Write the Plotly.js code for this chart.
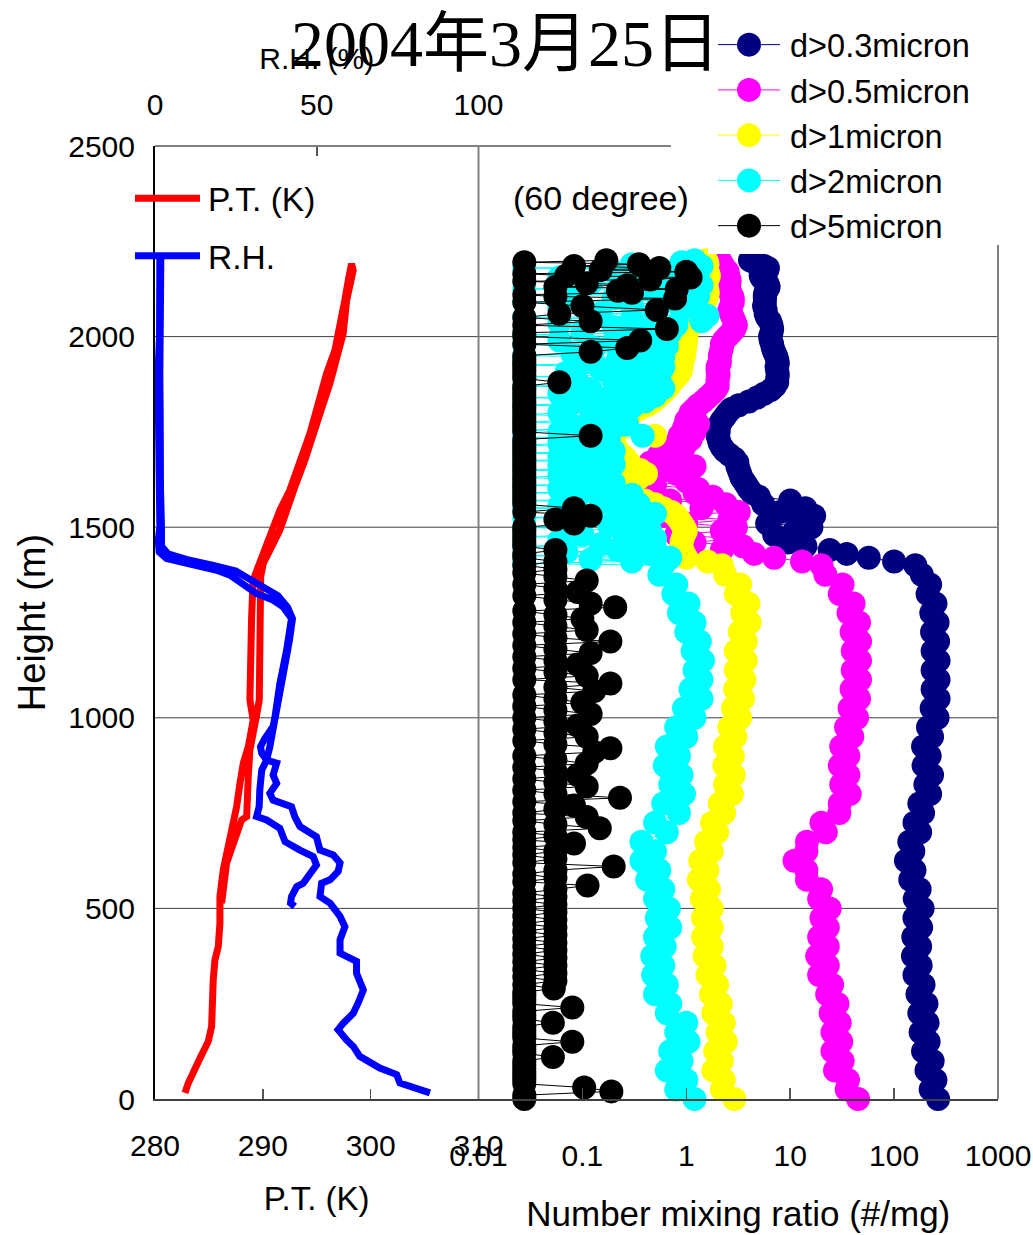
<!DOCTYPE html>
<html>
<head>
<meta charset="utf-8">
<script src="https://cdn.plot.ly/plotly-3.0.1.min.js"></script>
<style>html,body{margin:0;padding:0;background:#fff;}#gd{width:1033px;height:1235px;}</style>
</head>
<body>
<div id="gd"></div>
<script>
// ---------- Left panel: potential temperature & relative humidity ----------
const PT_H = [16,42,107,151,190,234,313,365,400,461,531,601,662,706,767,828,881,924,959,994,1047,1178,1265,1361,1396,1448,1492,1545,1597,1667,1746,1824,1903,1964,2025,2095,2147,2191,
  2174,2095,2008,1938,1877,1824,1754,1676,1606,1545,1492,1440,1405,1370,1265,1047,1003,959,916,846,785,741,732,619,514];
const PT_T = [282.78,283.09,284.17,284.94,285.25,285.25,285.40,285.56,285.87,286.02,286.02,286.33,286.8,287.26,287.57,287.88,288.19,288.65,288.96,289.11,288.8,288.8,288.96,289.1,289.6,290.35,290.97,291.58,292.5,293.44,294.37,295.14,295.91,296.68,297.15,297.6,297.92,298.23,
  298.38,297.77,297.45,296.84,296.22,295.6,294.83,293.9,292.97,292.2,291.58,290.66,290.04,289.8,289.73,289.67,289.4,289.1,288.8,288.65,288.5,288.5,288.03,286.64,286.18];

const RH_H = [16,33,42,64,81,112,138,155,182,199,225,252,286,330,361,383,418,452,479,514,531,566,575,597,619,640,653,688,715,741,767,784,802,828,850,881,889,907,924,946,977,1003,1090,1178,1221,1261,1291,1309,1326,1344,1361,1374,1387,1396,1409,1418,1435,1466,1501,1600,1700,1800,1900,2000,2100,2208,
  2200,2100,2000,1900,1800,1700,1600,1500,1450,1430,1415,1400,1385,1365,1345,1320,1290,1260,1200,1100,1003,977,924,889,863,811,767,741,732,710,675,653,636,614,588,566,557,531,514,505];
const RH_V = [85.0,78.8,75.7,74.7,69.5,63.3,61.3,59.2,56.6,58.2,61.3,62.8,64.4,62.3,62.3,57.2,57.2,58.7,57.2,54.1,51.0,51.5,54.1,56.6,57.2,55.1,51.0,49.9,44.8,43.2,42.2,36.5,35.5,37.6,36.5,37.6,34.5,33.0,32.6,34.0,36.5,37.1,38.6,40.7,41.2,42.2,39.6,36.5,31.4,28.3,26.3,23.2,19.1,13.9,7.7,3.6,1.3,1.0,1.5,1.3,1.0,1.2,0.9,1.4,1.2,1.5,
  1.8,1.6,1.8,1.5,1.6,1.4,1.7,2.0,2.0,4,10,18,25,29,33,38,41,42.5,41.5,39.5,37.5,36.8,35.5,34.5,33.0,32.4,32.2,31.4,34.5,38.6,40.2,44.8,48.9,49.9,47.9,45.8,43.8,42.2,41.9,43.2];

const PT_TICKS = [280,290,300,310];
const RH_TICKS = [0,50,100];
const HEIGHT_TICKS = [0,500,1000,1500,2000,2500];
const GRID_H = [500,1000,1500,2000];

// ---------- Right panel: number mixing ratio (#/mg) ----------
const NMR_TICKS = [0.01,0.1,1,10,100,1000];
const NMR_TICKTEXT = ['0.01','0.1','1','10','100','1000'];

// heights (m) used by the d>0.3, d>0.5, d>1 series
const H_LOW = [
  0,25,50,75,100,125,150,175,
  200,225,250,275,300,325,350,375,
  400,425,450,475,500,525,550,575,
  600,625,650,675,700,725,750,775,
  800,825,850,875,900,925,950,975,
  1000,1025,1050,1075,1100,1125,1150,1175,
  1200,1225,1250,1275,1300,1325,1350,1375];
const H_UP = [
  1400,1410,1420,1430,1440,1450,1460,1470,1480,1490,
  1500,1510,1520,1530,1540,1550,1560,1570,1580,1590,
  1600,1610,1620,1630,1640,1650,1660,1670,1680,1690,
  1700,1710,1720,1730,1740,1750,1760,1770,1780,1790,
  1800,1810,1820,1830,1840,1850,1860,1870,1880,1890,
  1900,1910,1920,1930,1940,1950,1960,1970,1980,1990,
  2000,2010,2020,2030,2040,2050,2060,2070,2080,2090,
  2100,2105,2110,2115,2120,2125,2130,2135,2140,2145,2150,2155,2160,2165,2170,2175,2180,2185,2190,2195,2200];
// heights (m) of the d>2 series above 1400 m (denser record)
const CH_UP = [
  1400,1405,1410,1415,1420,1425,1430,1435,1440,1445,
  1450,1455,1460,1465,1470,1475,1480,1485,1490,1495,
  1500,1505,1510,1515,1520,1525,1530,1535,1540,1545,
  1550,1555,1560,1565,1570,1575,1580,1585,1590,1595,
  1600,1605,1610,1615,1620,1625,1630,1635,1640,1645,
  1650,1655,1660,1665,1670,1675,1680,1685,1690,1695,
  1700,1705,1710,1715,1720,1725,1730,1735,1740,1745,
  1750,1755,1760,1765,1770,1775,1780,1785,1790,1795,
  1800,1805,1810,1815,1820,1825,1830,1835,1840,1845,
  1850,1855,1860,1865,1870,1875,1880,1885,1890,1895,
  1900,1905,1910,1915,1920,1925,1930,1935,1940,1945,
  1950,1955,1960,1965,1970,1975,1980,1985,1990,1995,
  2000,2005,2010,2015,2020,2025,2030,2035,2040,2045,
  2050,2055,2060,2065,2070,2075,2080,2085,2090,2095,
  2100,2105,2110,2115,2120,2125,2130,2135,2140,2145,
  2150,2155,2160,2165,2170,2175,2180,2185,2190,2195,
  2200];
// heights (m) of the d>5 series below 1400 m (denser record)
const KH_LOW = [
  0,10,20,30,40,50,60,70,80,90,
  100,110,120,130,140,150,160,170,180,190,
  200,210,220,230,240,250,260,270,280,290,
  300,310,320,330,340,350,360,370,380,390,
  400,410,420,430,440,450,460,470,480,490,
  500,510,520,530,540,550,560,570,580,590,
  600,610,620,630,640,650,660,670,680,690,
  700,710,720,730,740,750,760,770,780,790,
  800,810,820,830,840,850,860,870,880,890,
  900,910,920,930,940,950,960,970,980,990,
  1000,1010,1020,1030,1040,1050,1060,1070,1080,1090,
  1100,1110,1120,1130,1140,1150,1160,1170,1180,1190,
  1200,1210,1220,1230,1240,1250,1260,1270,1280,1290,
  1300,1310,1320,1330,1340,1350,1360,1370,1380,1390];

const D03 = [
  265,225,250,205,235,190,215,180,
  210,175,205,168,192,157,180,152,
  178,153,182,157,188,158,176,143,
  157,130,153,140,178,157,190,175,
  222,200,232,192,220,190,232,212,
  262,230,268,235,268,235,268,235,
  265,232,262,228,250,210,222,185,
  160,100,57,35,24,14,9.5,13,7,11,
  16,6,12,17,8,14,5.5,10,5,4.3,
  4.0,3.8,3.6,3.4,3.3,3.2,3.1,3.1,2.9,2.6,
  2.35,2.2,2.1,2.05,2.0,2.05,2.0,2.1,2.2,2.35,
  2.5,2.7,3.2,4.0,4.8,5.6,6.5,7.1,7.5,7.5,
  7.6,7.5,7.4,7.6,7.5,7.3,7.0,6.8,6.7,6.5,
  6.4,6.6,6.7,6.6,6.4,6.0,5.8,5.8,5.6,5.7,
  5.7,5.7,5.7,5.8,5.9,6.0,6.2,6.1,6.0,5.8,5.5,5.3,5.2,5.5,5.8,6.0,6.1,5.6,5.0,4.5,4.1];

const D05 = [
  45,35,36,27,32,25.5,31,25.5,
  30,24.5,28.5,22.7,25.3,19,23,18.2,
  23,19,23,20,24,19,19.8,14.5,
  14.3,11,14.3,14.5,22,20,29.7,30,
  37.4,31,36.3,30,36.3,31,39.6,34.5,
  44,37.3,46,39,47,40,47,40,
  47,39,46,36.4,40.7,30,31.9,21.8,
  20,13,7,4.5,2.2,3.5,1.2,2.8,0.8,2.2,
  3.0,1.0,2.6,0.6,3.2,1.4,2.4,0.7,1.8,1.2,
  1.3,0.5,1.0,0.4,0.8,0.6,1.2,0.45,0.9,0.55,
  0.75,0.95,0.8,1.1,0.86,1.2,0.95,1.3,1.0,1.2,
  1.1,1.2,1.3,1.45,1.6,1.75,1.9,2.0,2.0,2.0,
  2.05,2.0,2.0,2.1,2.1,2.1,2.15,2.2,2.2,2.3,
  2.5,2.7,2.9,3.0,2.9,2.8,2.7,2.6,2.7,2.8,
  2.8,2.75,2.7,2.65,2.6,2.55,2.5,2.55,2.6,2.6,2.6,2.55,2.5,2.5,2.5,2.4,2.3,2.25,2.2,2.15,2.1];

const D1 = [
  2.9,2.2,2.3,1.82,2.2,1.9,2.4,2.0,
  2.3,1.82,2.15,1.73,1.98,1.6,1.87,1.5,
  1.76,1.45,1.76,1.45,1.76,1.41,1.65,1.32,
  1.6,1.36,1.76,1.55,1.98,1.77,2.31,2.1,
  2.75,2.36,2.86,2.32,2.8,2.36,2.97,2.6,
  3.3,2.82,3.52,2.95,3.63,3.0,3.74,3.0,
  3.74,3.27,4.07,3.45,3.96,3.0,3.3,2.36,
  2.2,1.6,1.0,0.95,0.9,0.9,0.9,0.92,0.95,0.99,
  0.95,0.9,0.85,0.8,0.72,0.6,0.5,0.4,0.32,0.3,
  0.27,0.24,0.28,0.35,0.41,0.36,0.3,0.28,0.26,0.24,
  0.22,0.21,0.2,0.2,0.5,0.21,0.22,0.23,0.25,0.26,
  0.3,0.35,0.42,0.48,0.53,0.58,0.63,0.68,0.72,0.78,
  0.84,0.88,0.9,0.91,0.93,0.95,0.96,0.97,0.98,0.99,
  1.0,1.0,1.05,1.1,1.2,1.3,1.35,1.4,1.45,1.5,
  1.55,1.58,1.6,1.6,1.6,1.58,1.55,1.52,1.5,1.55,1.6,1.62,1.65,1.62,1.6,1.58,1.55,1.58,1.6,1.58,1.55];

const D2 = [
  1.2,0.8,1.0,0.65,0.9,0.7,1.05,0.8,
  1.0,0.65,0.7,0.5,0.65,0.48,0.6,0.47,
  0.62,0.5,0.7,0.52,0.68,0.5,0.6,0.42,
  0.55,0.37,0.5,0.37,0.65,0.5,0.85,0.6,
  0.95,0.7,0.9,0.62,0.85,0.65,1.0,0.8,
  1.2,0.95,1.4,1.1,1.4,1.2,1.45,1.15,
  1.35,1.0,1.2,0.85,1.05,0.75,0.8,0.55,
  // above 1400 m (heights CH_UP)
  0.6,0.0276,0.3,0.12,0.7,0.0276,0.45,0.07,0.22,0.5,
  0.0276,0.15,0.35,0.06,0.5,0.0276,0.1,0.25,0.45,0.08,
  0.0276,0.18,0.4,0.06,0.3,0.0276,0.12,0.5,0.08,0.22,
  0.0276,0.06,0.35,0.15,0.0276,0.25,0.09,0.3,0.0276,0.18,
  0.06,0.12,0.0276,0.2,0.08,0.15,0.0276,0.06,0.18,0.1,
  0.0276,0.14,0.06,0.2,0.09,0.0276,0.17,0.06,0.12,0.0276,
  0.2,0.08,0.14,0.0276,0.06,0.18,0.1,0.0276,0.38,0.12,
  0.06,0.0276,0.2,0.1,0.27,0.0276,0.07,0.15,0.25,0.0276,
  0.06,0.2,0.12,0.3,0.0276,0.08,0.4,0.16,0.0276,0.5,
  0.06,0.25,0.12,0.6,0.0276,0.35,0.09,0.2,0.55,0.0276,
  0.45,0.07,0.3,0.15,0.6,0.0276,0.1,0.4,0.22,0.6,
  0.0276,0.08,0.5,0.3,0.13,0.65,0.0276,0.2,0.06,0.55,
  0.3,0.0276,0.7,0.1,0.45,0.2,0.8,0.06,1.4,0.3,
  0.0276,1.6,0.15,0.5,0.9,0.06,0.3,1.2,0.0276,0.7,
  0.2,1.3,0.08,0.5,1.0,0.0276,0.3,1.4,0.12,0.6,
  1.3,0.06,0.4,1.0,0.2,0.8,0.0276,1.4,0.3,0.9,
  1.2];

const D5 = [
  0.0276,0.0276,0.19,0.104,0.0276,0.0276,0.0276,0.0276,0.0276,0.0276,
  0.0276,0.052,0.0276,0.0276,0.0276,0.08,0.0276,0.0276,0.0276,0.0276,
  0.052,0.0276,0.0276,0.0276,0.08,0.0276,0.0276,0.0276,0.0276,0.053,
  0.0276,0.055,0.0276,0.055,0.0276,0.055,0.0276,0.055,0.0276,0.055,
  0.0276,0.055,0.0276,0.055,0.0276,0.055,0.0276,0.055,0.0276,0.055,
  0.0276,0.055,0.0276,0.055,0.0276,0.055,0.112,0.0276,0.055,0.0276,
  0.055,0.2,0.0276,0.055,0.0276,0.055,0.0276,0.083,0.0276,0.055,
  0.0276,0.147,0.055,0.0276,0.11,0.0276,0.055,0.083,0.0276,0.23,
  0.055,0.0276,0.11,0.055,0.0276,0.09,0.055,0.0276,0.11,0.055,
  0.0276,0.13,0.186,0.055,0.0276,0.11,0.055,0.0276,0.09,0.055,
  0.0276,0.12,0.055,0.0276,0.1,0.055,0.0276,0.13,0.055,0.186,
  0.0276,0.11,0.055,0.0276,0.09,0.055,0.0276,0.12,0.055,0.0276,
  0.186,0.055,0.0276,0.11,0.055,0.0276,0.1,0.055,0.0276,0.207,
  0.12,0.055,0.0276,0.09,0.055,0.0276,0.11,0.055,0.0276,0.055,
  // above 1400 m (heights H_UP)
  0.0276,0.055,0.0276,0.0276,0.055,0.0276,0.0276,0.0276,0.0276,0.0276,
  0.0276,0.083,0.055,0.12,0.0276,0.083,0.0276,0.0276,0.0276,0.0276,
  0.0276,0.0276,0.0276,0.0276,0.0276,0.0276,0.0276,0.0276,0.0276,0.0276,
  0.0276,0.0276,0.0276,0.0276,0.12,0.0276,0.0276,0.0276,0.0276,0.0276,
  0.0276,0.0276,0.0276,0.0276,0.0276,0.0276,0.0276,0.0276,0.06,0.0276,
  0.0276,0.0276,0.0276,0.0276,0.0276,0.0276,0.12,0.27,0.0276,0.36,
  0.0276,0.0276,0.65,0.0276,0.12,0.0276,0.06,0.52,0.1,0.0276,
  0.78,0.055,0.0276,0.3,0.22,0.81,0.055,0.27,0.11,0.0276,0.45,1.1,0.07,0.0276,1.0,0.15,0.55,0.083,0.35,0.0276,0.17];

const H = H_LOW.concat(H_UP);
const SERIES = [
  {name:'d>0.3micron', x:D03, y:H,                   c:'#000080'},
  {name:'d>0.5micron', x:D05, y:H,                   c:'#FF00FF'},
  {name:'d>1micron',   x:D1,  y:H,                   c:'#FFFF00'},
  {name:'d>2micron',   x:D2,  y:H_LOW.concat(CH_UP), c:'#00FFFF'},
  {name:'d>5micron',   x:D5,  y:KH_LOW.concat(H_UP), c:'#000000'}
];

// ---------- helpers for layout placement (pixels -> paper) ----------
const PL = 155, PR = 998, PT = 146, PB = 1099;
const px = v => (v - PL) / (PR - PL);
const py = v => (PB - v) / (PB - PT);
const SPLIT = px(478.5);

const FT = 'Liberation Sans, Arial, sans-serif';

const data = [
  {type:'scatter', mode:'lines', name:'P.T. (K)', x:PT_T, y:PT_H, xaxis:'x', yaxis:'y',
   line:{color:'#FF0000', width:7}, legend:'legend2', legendgroup:'pt'},
  {type:'scatter', mode:'lines', name:'R.H.', x:RH_V, y:RH_H, xaxis:'x2', yaxis:'y',
   line:{color:'#0000FF', width:7}, legend:'legend2', legendgroup:'rh'}
];
SERIES.forEach(s => data.push({
  type:'scatter', mode:'lines+markers', name:s.name, x:s.x, y:s.y, xaxis:'x3', yaxis:'y',
  line:{color:s.c, width:1}, marker:{color:s.c, size:24, line:{width:0}},
  cliponaxis:false, legend:'legend'
}));

const tickFont = {family:FT, size:30, color:'#000'};
const layout = {
  width:1033, height:1235,
  margin:{l:PL, r:1033-PR, t:PT, b:1235-PB, autoexpand:false},
  paper_bgcolor:'#fff', plot_bgcolor:'rgba(0,0,0,0)',
  showlegend:true,
  xaxis:{domain:[0,SPLIT], anchor:'y', range:[280,310], tickvals:PT_TICKS, ticks:'inside', ticklen:10,
    tickwidth:1.5, tickcolor:'#555', showline:true, linecolor:'#404040', linewidth:2, showgrid:false,
    zeroline:false, tickfont:tickFont, ticklabelstandoff:19, ticklabeloverflow:'allow',
    title:{text:'P.T. (K)', font:{family:FT, size:33, color:'#000'}, standoff:26}},
  xaxis2:{overlaying:'x', side:'top', anchor:'y', range:[0,100], tickvals:RH_TICKS, ticks:'inside',
    ticklen:10, tickwidth:1.5, tickcolor:'#555', showline:false, showgrid:false, zeroline:false,
    tickfont:tickFont, ticklabelstandoff:24, ticklabeloverflow:'allow',
    title:{text:'R.H. (%)', font:{family:FT, size:30, color:'#000'}, standoff:9}},
  xaxis3:{domain:[SPLIT,1], anchor:'y', type:'log', range:[-2,3], tickvals:NMR_TICKS, ticktext:NMR_TICKTEXT,
    ticks:'inside', ticklen:11, tickwidth:1.5, tickcolor:'#555', showline:true, linecolor:'#404040',
    linewidth:2, showgrid:false, zeroline:false, tickfont:tickFont, ticklabelstandoff:29,
    ticklabeloverflow:'allow',
    title:{text:'Number mixing ratio (#/mg)', font:{family:FT, size:35, color:'#000'}, standoff:30}},
  yaxis:{domain:[0,1], anchor:'x', range:[0,2500], tickvals:HEIGHT_TICKS, ticks:'', showgrid:false,
    showline:true, linecolor:'#000', linewidth:2, zeroline:false, tickfont:tickFont, ticklabelstandoff:12,
    title:{text:'Height (m)', font:{family:FT, size:38, color:'#000'}, standoff:11}},
  legend:{x:px(708), y:py(17), xanchor:'left', yanchor:'top', bgcolor:'#fff', borderwidth:0,
    font:{family:FT, size:32.5, color:'#000'}, itemwidth:72, tracegroupgap:0},
  legend2:{x:px(135), y:py(170), xanchor:'left', yanchor:'top', bgcolor:'rgba(0,0,0,0)', borderwidth:0,
    font:{family:FT, size:33.5, color:'#000'}, itemwidth:63, traceorder:'grouped', tracegroupgap:11},
  shapes:[
    ...GRID_H.map(h => ({type:'line', xref:'paper', yref:'y', x0:0, x1:1, y0:h, y1:h, layer:'below',
      line:{color:'#404040', width:1}})),
    {type:'line', xref:'paper', yref:'paper', x0:0, x1:px(671), y0:1, y1:1, line:{color:'#808080', width:2}},
    {type:'line', xref:'paper', yref:'paper', x0:SPLIT, x1:SPLIT, y0:0, y1:1, line:{color:'#808080', width:2}},
    {type:'line', xref:'paper', yref:'paper', x0:1, x1:1, y0:0, y1:py(245), line:{color:'#808080', width:2}}
  ],
  annotations:[
    {text:'2004年3月25日', xref:'paper', yref:'paper', x:px(505), y:py(44), xanchor:'center', yanchor:'middle',
     showarrow:false, font:{family:'"Liberation Serif", "Times New Roman", "Noto Sans CJK JP", serif', size:66, color:'#000'}},
    {text:'(60 degree)', xref:'paper', yref:'paper', x:px(601), y:py(198), xanchor:'center', yanchor:'middle',
     showarrow:false, font:{family:FT, size:34, color:'#000'}}
  ]
};

const gd = document.getElementById('gd');
Plotly.newPlot(gd, data, layout, {staticPlot:true, displayModeBar:false}).then(function(){
  const circ = r => 'M' + r + ',0A' + r + ',' + r + ' 0 1,1 0,-' + r + 'A' + r + ',' + r + ' 0 0,1 ' + r + ',0Z';
  gd.querySelectorAll('g.legend .traces').forEach(function(tr){
    tr.querySelectorAll('.legendlines path').forEach(p => p.setAttribute('d', 'M10,0h62'));
    tr.querySelectorAll('.legendpoints path').forEach(function(p){
      p.setAttribute('transform', 'translate(41,0)');
      p.setAttribute('d', circ(12));
    });
  });
  gd.querySelectorAll('g.legend2 .traces').forEach(function(tr){
    tr.querySelectorAll('.legendlines path').forEach(p => p.setAttribute('d', 'M0,0h65'));
  });
});
</script>
</body>
</html>
